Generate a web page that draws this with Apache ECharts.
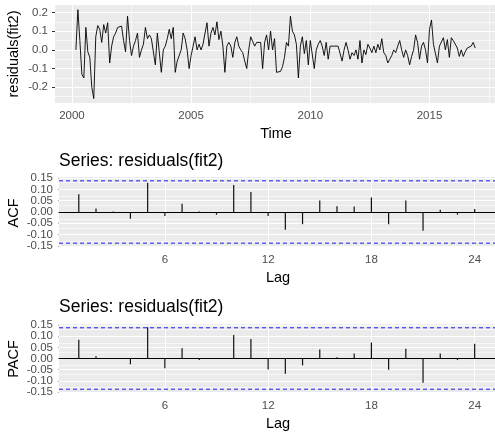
<!DOCTYPE html>
<html>
<head>
<meta charset="utf-8">
<script src="https://cdn.jsdelivr.net/npm/echarts@6/dist/echarts.min.js"></script>
<style>
  html, body { margin: 0; padding: 0; background: #ffffff; }
  #chart { width: 495px; height: 436px; }
</style>
</head>
<body>
<div id="chart"></div>
<script>
// Monthly residuals of fit2, March 2000 to December 2016
const startYear = 2000;
const startMonth = 2; // March (0-based month index)
const resid2000 = [0.00, 0.215, 0.05, -0.13, -0.15, 0.12, -0.01, -0.04, -0.20, -0.26];
const resid2001 = [0.07, 0.13, 0.11, 0.04, 0.135, 0.09, 0.145, -0.07, 0.02, 0.07, 0.09, 0.12];
const resid2002 = [0.12, 0.127, 0.05, -0.01, 0.18, 0.05, -0.03, 0.02, 0.05, 0.09, -0.04, 0.00];
const resid2003 = [0.03, 0.12, 0.06, 0.08, 0.06, 0.07, -0.08, 0.09, 0.08, -0.12, 0.00, 0.02];
const resid2004 = [0.06, 0.11, 0.06, 0.12, -0.12, -0.06, -0.07, 0.00, 0.09, 0.06, 0.00, -0.10];
const resid2005 = [-0.03, 0.02, 0.07, 0.00, 0.03, 0.00, 0.03, 0.09, 0.145, 0.02, 0.09, 0.12];
const resid2006 = [0.08, 0.15, 0.055, 0.10, 0.02, -0.12, 0.02, 0.04, 0.02, -0.04, 0.04, 0.07];
const resid2007 = [0.02, 0.00, -0.015, -0.06, -0.10, 0.00, 0.07, 0.045, 0.02, 0.04, 0.05, 0.04];
const resid2008 = [-0.10, 0.04, 0.08, 0.00, 0.10, 0.00, 0.06, -0.12, -0.125, -0.115, -0.09, -0.04];
const resid2009 = [0.04, 0.02, 0.18, 0.10, 0.08, 0.03, -0.15, 0.02, 0.07, -0.02, 0.05, -0.08];
const resid2010 = [0.05, 0.04, -0.10, 0.00, 0.03, 0.05, 0.02, -0.03, 0.04, -0.05, 0.02, 0.01];
const resid2011 = [0.02, 0.015, 0.02, 0.01, -0.06, 0.00, 0.04, 0.00, -0.05, -0.015, -0.03, 0.00];
const resid2012 = [-0.05, 0.05, -0.07, 0.00, -0.025, 0.03, 0.01, -0.015, 0.02, -0.015, 0.03, 0.00];
const resid2013 = [0.06, -0.015, -0.03, -0.07, -0.05, -0.03, 0.00, -0.015, 0.02, 0.05, 0.00, -0.04];
const resid2014 = [0.00, -0.03, -0.08, -0.035, 0.00, 0.08, 0.04, -0.05, 0.02, 0.04, 0.00, -0.07];
const resid2015 = [0.11, 0.16, 0.03, 0.02, -0.07, 0.02, 0.03, 0.065, 0.00, 0.055, -0.04, 0.065];
const resid2016 = [0.05, 0.055, 0.01, -0.035, 0.00, -0.035, -0.01, 0.01, 0.00, 0.02, 0.04, 0.01];

// Autocorrelations of the residuals, lags 1..24
const lags = [1, 2, 3, 4, 5, 6, 7, 8, 9, 10, 11, 12, 13, 14, 15, 16, 17, 18, 19, 20, 21, 22, 23, 24];
const acfValues = [0.079, 0.015, 0.002, -0.03, 0.13, -0.018, 0.037, 0.002, -0.012, 0.12, 0.089, -0.018,
                   -0.079, -0.054, 0.051, 0.025, 0.024, 0.064, -0.054, 0.051, -0.083, 0.010, -0.012, 0.013];
const pacfValues = [0.084, 0.010, 0.001, -0.026, 0.14, -0.044, 0.046, -0.007, 0.002, 0.106, 0.088, -0.049,
                    -0.069, -0.031, 0.040, 0.006, 0.022, 0.072, -0.051, 0.044, -0.109, 0.022, -0.007, 0.066];
const ciBound = 0.138; // 95% white-noise bound

// Axis breaks
const timeTicks = [2000, 2005, 2010, 2015];
const timeMinor = [2002.5, 2007.5, 2012.5, 2017.5];
const residTicks = [-0.2, -0.1, 0, 0.1, 0.2];
const residMinor = [-0.25, -0.15, -0.05, 0.05, 0.15];
const lagTicks = [6, 12, 18, 24];
const corrTicks = [-0.15, -0.10, -0.05, 0, 0.05, 0.10, 0.15];
const corrTicksOdd = [-0.15, -0.05, 0.05, 0.15];   // labelled on the first axis
const corrTicksEven = [-0.10, 0, 0.10];            // labelled on the companion axis
const corrMinor = [-0.125, -0.075, -0.025, 0.025, 0.075, 0.125];

const residuals = [].concat(resid2000, resid2001, resid2002, resid2003, resid2004, resid2005,
  resid2006, resid2007, resid2008, resid2009, resid2010, resid2011, resid2012, resid2013,
  resid2014, resid2015, resid2016);
const residPoints = residuals.map((v, i) => [startYear + (startMonth + i) / 12, v]);

const FONT = '"Liberation Sans", Arial, Helvetica, sans-serif';
const PANEL_BG = '#EBEBEB';
const CI_BLUE = '#1E1EE6';

const timeRange = [1999.29, 1999.29 + 443 / 24];
const lagRange = [-0.15, -0.15 + 440 / 17.37];
const corrRange = [-0.155, 0.155];

function gridLineData(xMajor, xMinor, yMajor, yMinor) {
  const major = { color: '#ffffff', width: 1.1, type: 'solid' };
  const minor = { color: '#ffffff', width: 0.55, type: 'solid' };
  const out = [];
  xMinor.forEach(v => out.push({ xAxis: v, lineStyle: minor }));
  yMinor.forEach(v => out.push({ yAxis: v, lineStyle: minor }));
  xMajor.forEach(v => out.push({ xAxis: v, lineStyle: major }));
  yMajor.forEach(v => out.push({ yAxis: v, lineStyle: major }));
  return out;
}

function gridSeries(idx, xMajor, xMinor, yMajor, yMinor) {
  return {
    type: 'line', xAxisIndex: idx, yAxisIndex: idx, data: [], silent: true, z: 1,
    markLine: {
      silent: true, z: 1, animation: false, symbol: ['none', 'none'],
      label: { show: false }, emphasis: { disabled: true },
      lineStyle: { color: '#ffffff', type: 'solid' },
      data: gridLineData(xMajor, xMinor, yMajor, yMinor)
    }
  };
}

// A dashed significance bound spanning the whole lag range
function boundSeries(idx, level) {
  return {
    type: 'line', xAxisIndex: idx, yAxisIndex: idx, silent: true, z: 5,
    data: [[lagRange[0], level], [lagRange[1], level]],
    showSymbol: false, symbol: 'none', emphasis: { disabled: true },
    lineStyle: { color: CI_BLUE, width: 1, type: [4, 3] }
  };
}

function axis(gridIndex, min, max, ticks, labels, fmt, margin, showTicks) {
  return {
    type: 'value', gridIndex, min, max, position: undefined,
    splitLine: { show: false },
    axisLine: { show: false },
    axisTick: { show: showTicks !== false, interval: 0, customValues: ticks, length: 3,
      lineStyle: { color: '#333333', width: 1 } },
    axisLabel: {
      customValues: labels, formatter: fmt, color: '#4D4D4D', fontSize: 11.5, fontFamily: FONT, margin,
      interval: 0, showMinLabel: true, showMaxLabel: true, hideOverlap: false
    },
    axisPointer: { show: false }
  };
}

function corrSeries(idx, values) {
  return {
    type: 'bar', xAxisIndex: idx, yAxisIndex: idx, z: 3,
    data: lags.map((l, i) => [l, values[i]]),
    barWidth: 1.2, itemStyle: { color: '#111111' }, silent: true,
    emphasis: { disabled: true },
    markLine: {
      silent: true, z: 4, animation: false, symbol: ['none', 'none'],
      label: { show: false }, emphasis: { disabled: true },
      lineStyle: { color: '#000000', width: 1, type: 'solid' },
      data: [{ yAxis: 0 }]
    }
  };
}

function label(text, x, y, size, opts) {
  return Object.assign({
    type: 'text', x, y, silent: true,
    style: {
      text, fill: '#000000', fontSize: size, fontFamily: FONT,
      align: 'center', verticalAlign: 'middle', textAlign: 'center', textVerticalAlign: 'middle'
    }
  }, opts || {});
}

function title(text, y) {
  return {
    type: 'text', x: 59, y, silent: true,
    style: {
      text, fill: '#000000', fontSize: 17.5, fontFamily: FONT,
      align: 'left', verticalAlign: 'middle', textAlign: 'left', textVerticalAlign: 'middle'
    }
  };
}

const fmt1 = v => v.toFixed(1);
const fmt2 = v => v.toFixed(2);
const fmtInt = v => String(Math.round(v));

function leftAxis(a) { a.position = 'left'; a.offset = 0; return a; }

const chart = echarts.init(document.getElementById('chart'), null, { renderer: 'canvas' });
chart.setOption({
  animation: false,
  backgroundColor: '#ffffff',
  grid: [
    { left: 55, top: 5, width: 443, height: 98, show: true, backgroundColor: PANEL_BG, borderWidth: 0 },
    { left: 59, top: 177, width: 440, height: 70, show: true, backgroundColor: PANEL_BG, borderWidth: 0 },
    { left: 59, top: 324, width: 440, height: 69, show: true, backgroundColor: PANEL_BG, borderWidth: 0 }
  ],
  xAxis: [
    axis(0, timeRange[0], timeRange[1], timeTicks, timeTicks, fmtInt, 7),
    axis(1, lagRange[0], lagRange[1], lagTicks, lagTicks, fmtInt, 7),
    axis(2, lagRange[0], lagRange[1], lagTicks, lagTicks, fmtInt, 7)
  ],
  yAxis: [
    leftAxis(axis(0, -0.284, 0.240, residTicks, residTicks, fmt1, 7)),
    leftAxis(axis(1, corrRange[0], corrRange[1], corrTicks, corrTicksOdd, fmt2, 6)),
    leftAxis(axis(2, corrRange[0], corrRange[1], corrTicks, corrTicksOdd, fmt2, 6)),
    leftAxis(axis(1, corrRange[0], corrRange[1], corrTicksEven, corrTicksEven, fmt2, 6, false)),
    leftAxis(axis(2, corrRange[0], corrRange[1], corrTicksEven, corrTicksEven, fmt2, 6, false))
  ],
  series: [
    gridSeries(0, timeTicks, timeMinor, residTicks, residMinor),
    gridSeries(1, lagTicks, [], corrTicks, corrMinor),
    gridSeries(2, lagTicks, [], corrTicks, corrMinor),
    {
      type: 'line', xAxisIndex: 0, yAxisIndex: 0, z: 3, silent: true,
      data: residPoints, showSymbol: false, symbol: 'none',
      lineStyle: { color: '#000000', width: 0.9 }, emphasis: { disabled: true }
    },
    corrSeries(1, acfValues),
    corrSeries(2, pacfValues),
    boundSeries(1, ciBound),
    boundSeries(1, -ciBound),
    boundSeries(2, ciBound),
    boundSeries(2, -ciBound)
  ],
  graphic: [
    label('residuals(fit2)', 14, 54, 14.5, { rotation: Math.PI / 2 }),
    label('Time', 276, 134, 14.5),
    title('Series: residuals(fit2)', 161),
    label('ACF', 14, 213, 14.5, { rotation: Math.PI / 2 }),
    label('Lag', 278, 278, 14.5),
    title('Series: residuals(fit2)', 307),
    label('PACF', 14, 359, 14.5, { rotation: Math.PI / 2 }),
    label('Lag', 278, 424, 14.5)
  ]
});
</script>
</body>
</html>
